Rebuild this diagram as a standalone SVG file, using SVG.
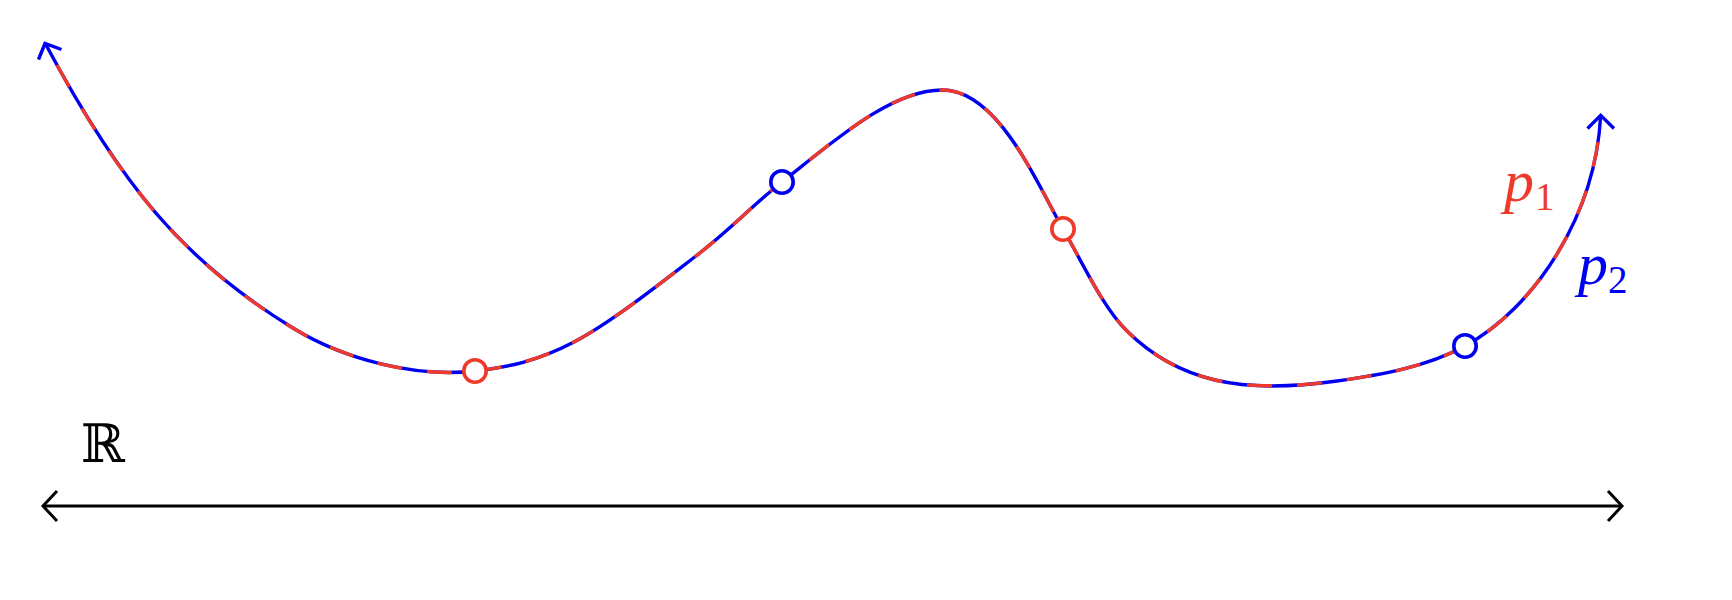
<svg xmlns="http://www.w3.org/2000/svg" width="1732" height="600" viewBox="0 0 1732 600">
<style>
.curve{fill:none;stroke-width:3.4;stroke-linecap:butt;stroke-linejoin:round}
.blue{stroke:#0000f0}
.red{stroke:#ee3a2a}
.dash{stroke-dasharray:25 25}
.head{fill:none;stroke-width:3.4;stroke-linecap:butt;stroke-linejoin:miter}
.pt{fill:#fff;stroke-width:3.6}
.axis{fill:none;stroke:#000;stroke-width:3}
.lbl{font-family:"Liberation Serif","DejaVu Serif",serif}
</style>
<defs>
<path id="curvePath" d="M45,43 C120.2,183.8 182.8,260.7 293.3,328.3 C344.3,359.5 415.4,377.9 475,371 C507.8,367.2 537.2,361.2 574,342 C610.8,322.8 661.3,282.7 696,256 C730.7,229.3 750.7,206.8 782,182 C836.9,138.5 892,90 942,90 C997,90 1033.6,176.8 1063,229 C1082,261.2 1101.7,305.8 1127,331 C1152.3,356.2 1180,371.7 1215,380 C1250,388.3 1295.5,386.8 1337,381 C1378.5,375.2 1425.6,367.6 1465,346 C1535.1,307.6 1595.7,215 1600.7,115"/>
</defs>
<rect width="1732" height="600" fill="#fff"/>
<g id="connectors">
<g id="curve">
<use href="#curvePath" class="curve blue"/>
<use href="#curvePath" class="curve red dash" stroke-dashoffset="-25"/>
<polyline class="head blue" points="38.5,59.5 45,43.5 61.5,49.5"/>
<polyline class="head blue" points="1587.5,128.5 1600.7,115.3 1614,128.5"/>
</g>
<g id="axis">
<line class="axis" x1="45" y1="506" x2="1620" y2="506"/>
<polyline class="axis" points="57,491 43,506 57,521"/>
<polyline class="axis" points="1608,491 1622,506 1608,521"/>
</g>
</g>
<g id="node-red-1"><circle class="pt red" cx="475" cy="371" r="11.2"/></g>
<g id="node-blue-1"><circle class="pt blue" cx="782" cy="182" r="11.2"/></g>
<g id="node-red-2"><circle class="pt red" cx="1063" cy="229" r="11.2"/></g>
<g id="node-blue-2"><circle class="pt blue" cx="1465" cy="346" r="11.2"/></g>
<g id="label-R"><text x="81" y="462" font-size="53" fill="#000" font-family="DejaVu Serif, DejaVu Sans, serif">ℝ</text></g>
<g id="label-p1"><text class="lbl" x="1504" y="201" font-size="60" fill="#ee3a2a" font-style="italic">p<tspan font-style="normal" font-size="39" x="1535" y="210">1</tspan></text></g>
<g id="label-p2"><text class="lbl" x="1578" y="284" font-size="60" fill="#0000f0" font-style="italic">p<tspan font-style="normal" font-size="39" x="1608" y="293">2</tspan></text></g>
</svg>
